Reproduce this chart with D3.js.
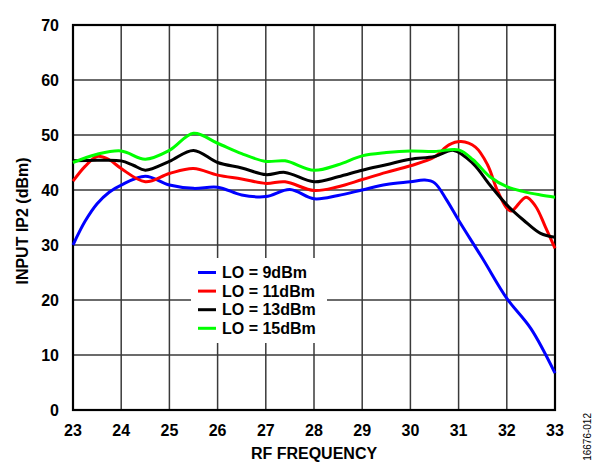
<!DOCTYPE html>
<html>
<head>
<meta charset="utf-8">
<script src="https://cdn.jsdelivr.net/npm/d3@7"></script>
<style>
  body { margin: 0; background: #fff; }
  svg { display: block; }
  text { font-family: "Liberation Sans", Arial, sans-serif; }
</style>
</head>
<body>
<svg id="chart" width="600" height="462"></svg>
<script>
// Input IP2 vs RF frequency for four LO drive levels
const xTicks = [23, 24, 25, 26, 27, 28, 29, 30, 31, 32, 33];
const yTicks = [0, 10, 20, 30, 40, 50, 60, 70];

const lo9 = [
  [23, 30.0], [23.25, 34.3], [23.5, 37.5], [23.75, 39.6], [24, 40.9], [24.5, 42.5],
  [25, 40.9], [25.5, 40.3], [26, 40.5], [26.5, 39.1], [27, 38.8], [27.5, 40.1],
  [28, 38.4], [28.5, 39.0], [29, 40.0], [29.5, 41.0], [30, 41.5], [30.3, 41.8],
  [30.5, 41.3], [30.75, 38.2], [31, 34.5], [31.5, 27.5], [32, 20.3], [32.5, 14.8], [33, 6.7]
];
const lo11 = [
  [23, 41.6], [23.25, 44.3], [23.5, 46.1], [23.75, 45.5], [24, 43.9], [24.5, 41.5],
  [25, 43.0], [25.5, 43.9], [26, 42.7], [26.5, 42.0], [27, 41.2], [27.4, 41.5],
  [28, 39.9], [28.5, 40.6], [29, 41.9], [29.5, 43.2], [30, 44.4], [30.5, 46.0],
  [30.8, 48.2], [31.05, 48.8], [31.35, 47.8], [31.6, 44.6], [31.8, 40.0], [32, 36.7],
  [32.1, 36.2], [32.4, 38.7], [32.6, 37.0], [32.8, 33.3], [33, 29.4]
];
const lo13 = [
  [23, 45.3], [23.5, 45.4], [24, 45.3], [24.25, 44.5], [24.5, 43.6], [25, 45.2],
  [25.5, 47.2], [26, 45.0], [26.5, 44.0], [27, 42.8], [27.4, 43.2], [28, 41.5],
  [28.5, 42.4], [29, 43.6], [29.5, 44.6], [30, 45.6], [30.5, 46.1], [30.9, 47.2],
  [31.3, 44.8], [31.65, 40.9], [32, 37.3], [32.35, 34.5], [32.7, 32.1], [33, 31.4]
];
const lo15 = [
  [23, 45.0], [23.5, 46.5], [24, 47.1], [24.5, 45.6], [25, 47.2], [25.5, 50.3],
  [26, 48.5], [26.5, 46.6], [27, 45.2], [27.4, 45.3], [28, 43.6], [28.5, 44.6],
  [29, 46.2], [29.5, 46.8], [30, 47.1], [30.5, 47.0], [31, 47.3], [31.3, 45.5],
  [31.65, 42.4], [32, 40.6], [32.35, 39.7], [32.7, 39.1], [33, 38.7]
];

const seriesNames = ["LO = 9dBm", "LO = 11dBm", "LO = 13dBm", "LO = 15dBm"];
const seriesColors = ["#0000ff", "#ff0000", "#000000", "#00ff00"];
const seriesData = [lo9, lo11, lo13, lo15];

const svg = d3.select("#chart");
const m = { left: 73, right: 555, top: 25, bottom: 410 };

const x = d3.scaleLinear().domain([23, 33]).range([m.left, m.right]);
const y = d3.scaleLinear().domain([0, 70]).range([m.bottom, m.top]);

// grid
const grid = svg.append("g");
grid.selectAll("line.v").data(xTicks).join("line")
  .attr("x1", d => x(d)).attr("x2", d => x(d))
  .attr("y1", m.top).attr("y2", m.bottom)
  .attr("stroke", "#3a3a3a").attr("stroke-width", 1.5);
grid.selectAll("line.h").data(yTicks).join("line")
  .attr("x1", m.left).attr("x2", m.right)
  .attr("y1", d => y(d)).attr("y2", d => y(d))
  .attr("stroke", "#3a3a3a").attr("stroke-width", 1.5);

// legend background (drawn before curves so it masks the grid only)
const legend = svg.append("g");
legend.append("rect")
  .attr("x", 191).attr("y", 258).attr("width", 136).attr("height", 85)
  .attr("fill", "#fff");

// frame
svg.append("rect")
  .attr("x", m.left).attr("y", m.top)
  .attr("width", m.right - m.left).attr("height", m.bottom - m.top)
  .attr("fill", "none").attr("stroke", "#000").attr("stroke-width", 2.2);

// curves
const line = d3.line()
  .x(d => x(d[0])).y(d => y(d[1]))
  .curve(d3.curveCatmullRom.alpha(0.5));

svg.append("g").selectAll("path").data(seriesData).join("path")
  .attr("d", d => line(d))
  .attr("fill", "none")
  .attr("stroke", (d, i) => seriesColors[i])
  .attr("stroke-width", 3)
  .attr("stroke-linejoin", "round");

// legend entries
seriesNames.forEach((name, i) => {
  const ly = 272.5 + i * 18.6;
  legend.append("line")
    .attr("x1", 198).attr("x2", 216).attr("y1", ly).attr("y2", ly)
    .attr("stroke", seriesColors[i]).attr("stroke-width", 3);
  legend.append("text")
    .attr("x", 222).attr("y", ly + 5.5)
    .attr("font-size", 16).attr("font-weight", "bold")
    .text(name);
});

// tick labels
svg.append("g").selectAll("text").data(yTicks).join("text")
  .attr("x", 59).attr("y", d => y(d) + 6)
  .attr("text-anchor", "end")
  .attr("font-size", 16).attr("font-weight", "bold")
  .text(d => d);

svg.append("g").selectAll("text").data(xTicks).join("text")
  .attr("x", d => x(d)).attr("y", 436)
  .attr("text-anchor", "middle")
  .attr("font-size", 16).attr("font-weight", "bold")
  .text(d => d);

// axis titles
svg.append("text")
  .attr("x", 314).attr("y", 459)
  .attr("text-anchor", "middle")
  .attr("font-size", 16).attr("font-weight", "bold")
  .text("RF FREQUENCY");

svg.append("text")
  .attr("transform", "translate(28,221) rotate(-90)")
  .attr("text-anchor", "middle")
  .attr("font-size", 16).attr("font-weight", "bold")
  .text("INPUT IP2 (dBm)");

svg.append("text")
  .attr("transform", "translate(591,413) rotate(-90)")
  .attr("text-anchor", "end")
  .attr("font-size", 10)
  .text("16676-012");
</script>
</body>
</html>
